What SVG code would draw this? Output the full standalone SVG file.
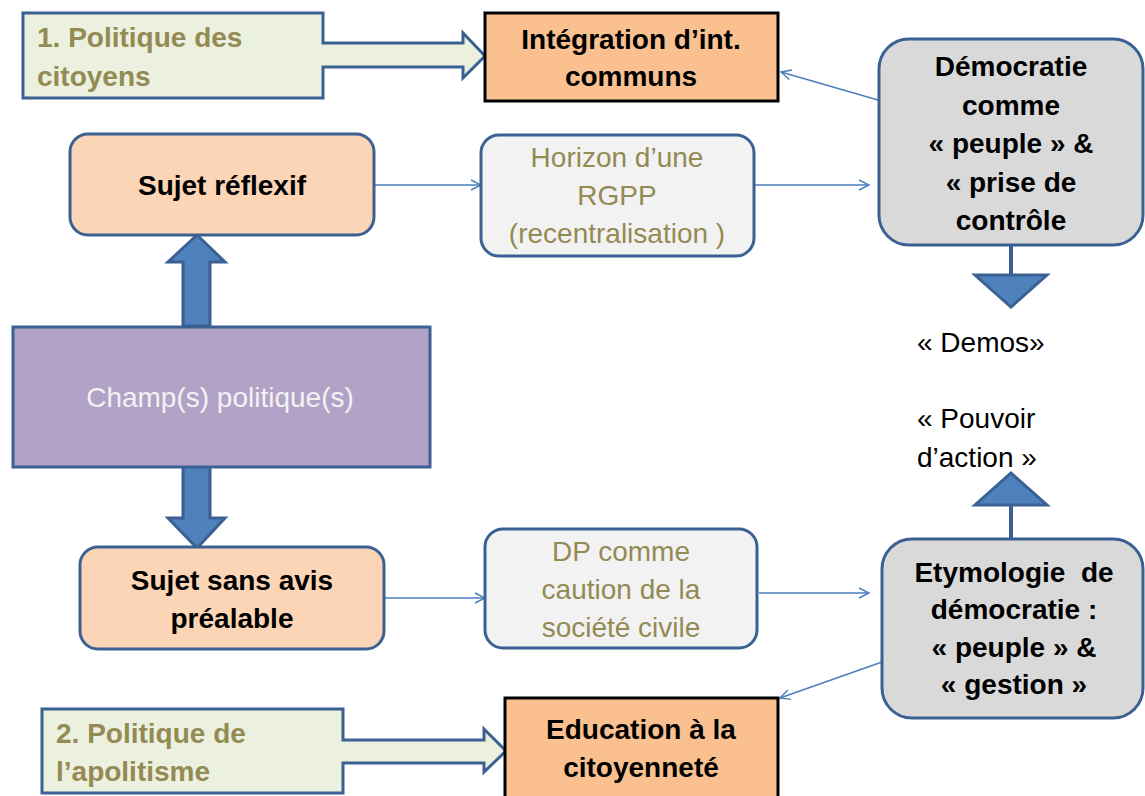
<svg xmlns="http://www.w3.org/2000/svg" width="1145" height="796" viewBox="0 0 1145 796">
<defs>
<style>
.b{font-family:"Liberation Sans",Arial,sans-serif;font-weight:bold;font-size:28px;fill:#000;text-anchor:middle}
.r{font-family:"Liberation Sans",Arial,sans-serif;font-size:28px;fill:#948A54;text-anchor:middle}
.ol{font-family:"Liberation Sans",Arial,sans-serif;font-weight:bold;font-size:28px;fill:#948A54}
.node{stroke:#3B6193;stroke-width:3}
.big{fill:#4F81BD;stroke:#3B6193;stroke-width:3;stroke-linejoin:miter}
.con{stroke:#4A7EBB;stroke-width:1.4;fill:none}
</style>
<marker id="ah" viewBox="0 0 12 12" refX="11" refY="6" markerWidth="12" markerHeight="12" markerUnits="userSpaceOnUse" orient="auto">
<path d="M1,1 L11,6 L1,11" fill="none" stroke="#4A7EBB" stroke-width="1.4"/>
</marker>
</defs>
<rect width="1145" height="796" fill="#fff"/>

<g id="connectors">
<line class="con" x1="374" y1="185" x2="481" y2="185" marker-end="url(#ah)"/>
<line class="con" x1="755" y1="185" x2="869" y2="185" marker-end="url(#ah)"/>
<line class="con" x1="878" y1="100" x2="781" y2="72" marker-end="url(#ah)"/>
<line class="con" x1="384" y1="598" x2="485" y2="598" marker-end="url(#ah)"/>
<line class="con" x1="759" y1="593" x2="869" y2="593" marker-end="url(#ah)"/>
<line class="con" x1="882" y1="662" x2="780" y2="698" marker-end="url(#ah)"/>
<polygon class="big" points="183,326 183,262 168,262 197,235 225,262 210,262 210,326"/>
<polygon class="big" points="183,466 210,466 210,518 225,518 197,548 168,518 183,518"/>
<line x1="1011" y1="245" x2="1011" y2="276" stroke="#3B6193" stroke-width="4"/>
<polygon class="big" points="975,275 1047,275 1011,307"/>
<line x1="1011" y1="504" x2="1011" y2="541" stroke="#3B6193" stroke-width="4"/>
<polygon class="big" points="975,505 1047,505 1011,473"/>
</g>

<g id="politique-citoyens">
<path class="node" fill="#EBF1DE" d="M23,13 H323 V43 H463 V33 L485,56 L463,78 V67 H323 V98 H23 Z"/>
<text class="ol" x="37" y="47">1. Politique des</text>
<text class="ol" x="37" y="86">citoyens</text>
</g>

<g id="integration">
<rect x="485" y="13" width="293" height="88" fill="#FAC08F" stroke="#000" stroke-width="3"/>
<text class="b" x="631" y="49">Intégration d’int.</text>
<text class="b" x="631" y="86">communs</text>
</g>

<g id="sujet-reflexif">
<rect class="node" x="70" y="134" width="304" height="101" rx="18" fill="#FBD5B5"/>
<text class="b" x="222" y="195">Sujet réflexif</text>
</g>

<g id="horizon">
<rect class="node" x="481" y="135" width="273" height="121" rx="18" fill="#F2F2F2"/>
<text class="r" x="617" y="167">Horizon d’une</text>
<text class="r" x="617" y="205">RGPP</text>
<text class="r" x="617" y="243">(recentralisation )</text>
</g>

<g id="democratie">
<rect class="node" x="879" y="39" width="264" height="206" rx="30" fill="#D9D9D9"/>
<text class="b" x="1011" y="76">Démocratie</text>
<text class="b" x="1011" y="115">comme</text>
<text class="b" x="1011" y="153">« peuple » &amp;</text>
<text class="b" x="1011" y="192">« prise de</text>
<text class="b" x="1011" y="230">contrôle</text>
</g>

<g id="champ">
<rect class="node" x="13" y="327" width="417" height="140" fill="#B3A2C7"/>
<text class="r" x="220" y="407" style="fill:#F2F2F2">Champ(s) politique(s)</text>
</g>

<g id="demos">
<text class="r" x="917" y="352" style="fill:#000;text-anchor:start">« Demos»</text>
</g>

<g id="pouvoir">
<text class="r" x="917" y="428" style="fill:#000;text-anchor:start">« Pouvoir</text>
<text class="r" x="917" y="467" style="fill:#000;text-anchor:start">d’action »</text>
</g>

<g id="sujet-sans-avis">
<rect class="node" x="80" y="547" width="304" height="102" rx="18" fill="#FBD5B5"/>
<text class="b" x="232" y="590">Sujet sans avis</text>
<text class="b" x="232" y="628">préalable</text>
</g>

<g id="dp">
<rect class="node" x="485" y="529" width="272" height="119" rx="18" fill="#F2F2F2"/>
<text class="r" x="621" y="561">DP comme</text>
<text class="r" x="621" y="599">caution de la</text>
<text class="r" x="621" y="637">société civile</text>
</g>

<g id="etymologie">
<rect class="node" x="882" y="539" width="261" height="179" rx="30" fill="#D9D9D9"/>
<text class="b" x="1014" y="582" style="white-space:pre">Etymologie  de</text>
<text class="b" x="1014" y="619">démocratie :</text>
<text class="b" x="1014" y="657">« peuple » &amp;</text>
<text class="b" x="1014" y="694">« gestion »</text>
</g>

<g id="politique-apolitisme">
<path class="node" fill="#EBF1DE" d="M42,709 H343 V740 H484 V729 L506,751 L484,772 V763 H343 V793 H42 Z"/>
<text class="ol" x="56" y="743">2. Politique de</text>
<text class="ol" x="56" y="781">l’apolitisme</text>
</g>

<g id="education">
<rect x="505" y="698" width="273" height="110" fill="#FAC08F" stroke="#000" stroke-width="3"/>
<text class="b" x="641" y="739">Education à la</text>
<text class="b" x="641" y="777">citoyenneté</text>
</g>
</svg>
